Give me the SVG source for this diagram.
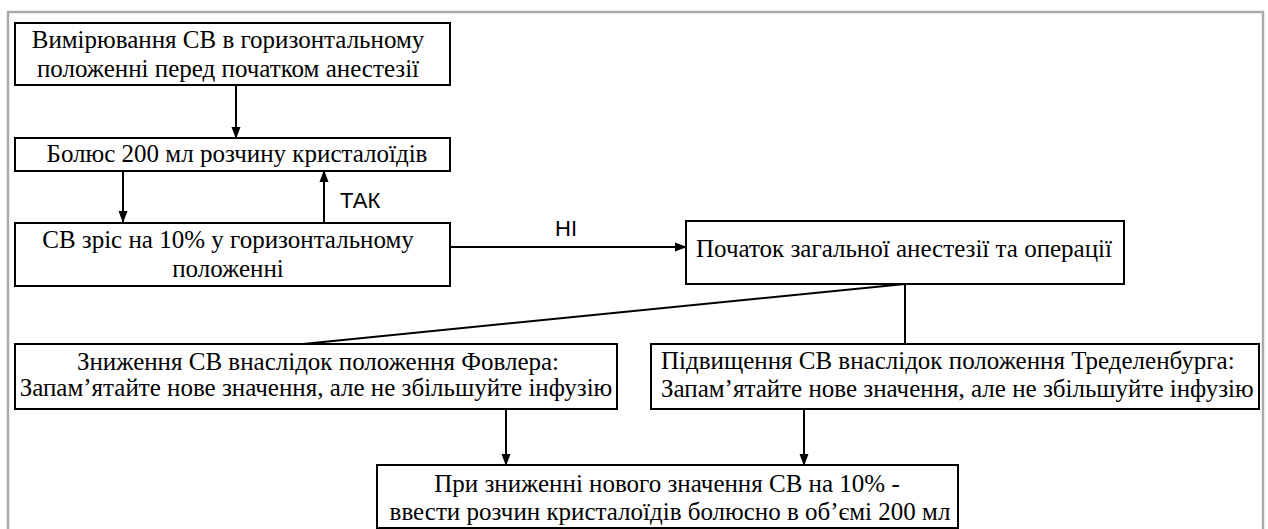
<svg xmlns="http://www.w3.org/2000/svg" width="1268" height="529" viewBox="0 0 1268 529">
<defs>
<marker id="ah" markerWidth="12" markerHeight="10" refX="11" refY="5" orient="auto" markerUnits="userSpaceOnUse">
<path d="M0,0.5 L12,5 L0,9.5 Z" fill="#000"/>
</marker>
<style>
.box{fill:#fff;stroke:#000;stroke-width:2}
.c{stroke:#000;stroke-width:2;fill:none}
.ca{stroke:#000;stroke-width:2;fill:none;marker-end:url(#ah)}
</style>
</defs>
<rect x="0" y="0" width="1268" height="529" fill="#fff"/>
<rect x="8" y="12" width="1255" height="540" fill="none" stroke="#aaa" stroke-width="2.5"/>
<g id="connectors">
<line class="ca" x1="236" y1="85" x2="236" y2="138"/>
<line class="ca" x1="123" y1="171" x2="123" y2="222"/>
<line class="ca" x1="324" y1="223" x2="324" y2="171"/>
<line class="ca" x1="450" y1="247" x2="686" y2="247"/>
<line class="c" x1="905" y1="284" x2="303" y2="344"/>
<line class="c" x1="905" y1="284" x2="905" y2="345"/>
<line class="ca" x1="506" y1="409" x2="506" y2="465"/>
<line class="ca" x1="804" y1="409" x2="804" y2="465"/>
<text x="340" y="208" font-size="22" fill="#000" font-family="'Liberation Sans', sans-serif">ТАК</text>
<text x="555" y="236" font-size="22" fill="#000" font-family="'Liberation Sans', sans-serif">НІ</text>
</g>
<g id="n1">
<rect class="box" x="15" y="23" width="435" height="62"/>
<text x="228" y="48" font-size="25" text-anchor="middle" font-family="'Liberation Serif', serif">Вимірювання СВ в горизонтальному</text>
<text x="228" y="77" font-size="25" text-anchor="middle" font-family="'Liberation Serif', serif">положенні перед початком анестезії</text>
</g>
<g id="n2">
<rect class="box" x="15" y="138" width="435" height="33"/>
<text x="237" y="162" font-size="25" text-anchor="middle" font-family="'Liberation Serif', serif">Болюс 200 мл розчину кристалоїдів</text>
</g>
<g id="n3">
<rect class="box" x="15" y="223" width="435" height="63"/>
<text x="228" y="248" font-size="25" text-anchor="middle" font-family="'Liberation Serif', serif">СВ зріс на 10% у горизонтальному</text>
<text x="228" y="277" font-size="25" text-anchor="middle" font-family="'Liberation Serif', serif">положенні</text>
</g>
<g id="n4">
<rect class="box" x="686" y="221" width="438" height="63"/>
<text x="904" y="257" font-size="25" text-anchor="middle" font-family="'Liberation Serif', serif">Початок загальної анестезії та операції</text>
</g>
<g id="n5">
<rect class="box" x="15" y="344" width="602" height="65"/>
<text x="318" y="370" font-size="25" text-anchor="middle" font-family="'Liberation Serif', serif">Зниження СВ внаслідок положення Фовлера:</text>
<text x="316" y="396" font-size="25" text-anchor="middle" font-family="'Liberation Serif', serif">Запам’ятайте нове значення, але не збільшуйте інфузію</text>
</g>
<g id="n6">
<rect class="box" x="651" y="344" width="608" height="65"/>
<text x="661" y="369" font-size="25" font-family="'Liberation Serif', serif">Підвищення СВ внаслідок положення Тределенбурга:</text>
<text x="661" y="397" font-size="25" font-family="'Liberation Serif', serif">Запам’ятайте нове значення, але не збільшуйте інфузію</text>
</g>
<g id="n7">
<rect class="box" x="377" y="465" width="581" height="63"/>
<text x="667" y="492" font-size="25" text-anchor="middle" font-family="'Liberation Serif', serif">При зниженні нового значення СВ на 10% -</text>
<text x="670" y="520" font-size="25" text-anchor="middle" font-family="'Liberation Serif', serif">ввести розчин кристалоїдів болюсно в об’ємі 200 мл</text>
</g>
</svg>
